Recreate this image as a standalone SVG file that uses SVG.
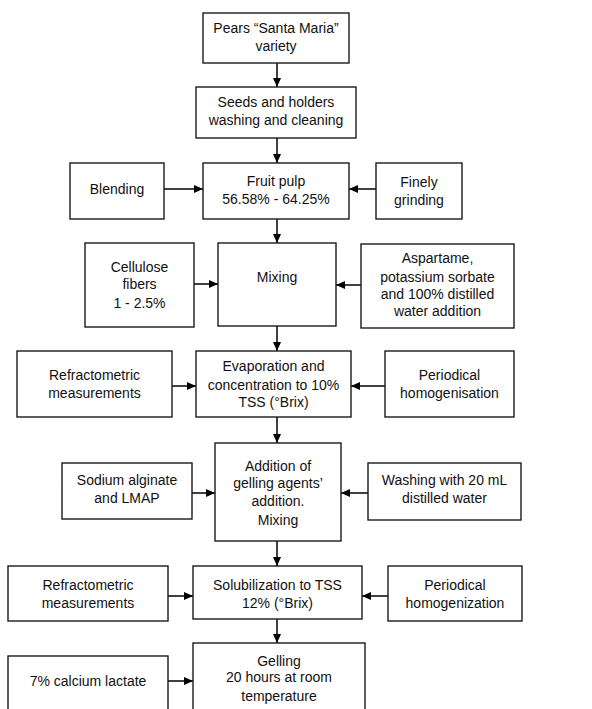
<svg xmlns="http://www.w3.org/2000/svg" width="592" height="709" viewBox="0 0 592 709">
<defs>
<marker id="ah" markerUnits="userSpaceOnUse" markerWidth="9" markerHeight="9" viewBox="0 0 9 9" refX="9" refY="4.5" orient="auto">
<path d="M0,0.5 L9,4.5 L0,8.5 Z" fill="#000"/>
</marker>
<style>
rect{fill:#fff;stroke:#1a1a1a;stroke-width:1.4}
text{font-family:"Liberation Sans",Arial,sans-serif;font-size:14px;fill:#111;text-anchor:middle}
#connectors line{stroke:#000;stroke-width:1.5;marker-end:url(#ah)}
</style>
</defs>
<rect x="0" y="0" width="592" height="709" style="fill:#fff;stroke:none"/>
<g id="connectors">
<line x1="277" y1="63" x2="277" y2="87"/>
<line x1="277" y1="138" x2="277" y2="163"/>
<line x1="277" y1="219" x2="277" y2="243"/>
<line x1="277" y1="326" x2="277" y2="351"/>
<line x1="277" y1="417" x2="277" y2="443"/>
<line x1="277" y1="541" x2="277" y2="566"/>
<line x1="277" y1="619" x2="277" y2="643"/>
<line x1="164" y1="189" x2="203" y2="189"/>
<line x1="376" y1="189" x2="349" y2="189"/>
<line x1="194" y1="284" x2="218" y2="284"/>
<line x1="361" y1="285" x2="336" y2="285"/>
<line x1="172" y1="386" x2="196" y2="386"/>
<line x1="385" y1="386" x2="351" y2="386"/>
<line x1="192" y1="493" x2="215" y2="493"/>
<line x1="368" y1="493" x2="341" y2="493"/>
<line x1="168" y1="596" x2="193" y2="596"/>
<line x1="388" y1="596" x2="362" y2="596"/>
<line x1="168" y1="681" x2="193" y2="681"/>
</g>
<g id="pears"><rect x="203" y="13" width="146" height="50"/><text x="276" y="33">Pears “Santa Maria”</text><text x="276" y="51">variety</text></g>
<g id="seeds"><rect x="196" y="87" width="160" height="51"/><text x="276" y="107">Seeds and holders</text><text x="276" y="125">washing and cleaning</text></g>
<g id="pulp"><rect x="203" y="163" width="146" height="56"/><text x="276" y="186">Fruit pulp</text><text x="276" y="204">56.58% - 64.25%</text></g>
<g id="blending"><rect x="70" y="163" width="94" height="56"/><text x="117" y="194">Blending</text></g>
<g id="grinding"><rect x="376" y="163" width="86" height="56"/><text x="419" y="187">Finely</text><text x="419" y="205">grinding</text></g>
<g id="mixing"><rect x="218" y="243" width="118" height="83"/><text x="277" y="282">Mixing</text></g>
<g id="cellulose"><rect x="85" y="243" width="109" height="84"/><text x="139.5" y="272">Cellulose</text><text x="139.5" y="289">fibers</text><text x="139.5" y="308">1 - 2.5%</text></g>
<g id="aspartame"><rect x="361" y="244" width="153" height="84"/><text x="437.5" y="263">Aspartame,</text><text x="437.5" y="282">potassium sorbate</text><text x="437.5" y="299">and 100% distilled</text><text x="437.5" y="316">water addition</text></g>
<g id="evaporation"><rect x="196" y="351" width="155" height="66"/><text x="273.5" y="371">Evaporation and</text><text x="273.5" y="390">concentration to 10%</text><text x="273.5" y="407">TSS (°Brix)</text></g>
<g id="refract1"><rect x="17" y="351" width="155" height="66"/><text x="94.5" y="380">Refractometric</text><text x="94.5" y="398">measurements</text></g>
<g id="period1"><rect x="385" y="351" width="129" height="66"/><text x="449.5" y="380">Periodical</text><text x="449.5" y="398">homogenisation</text></g>
<g id="addition"><rect x="215" y="443" width="126" height="98"/><text x="278" y="471">Addition of</text><text x="278" y="488">gelling agents’</text><text x="278" y="506">addition.</text><text x="278" y="525">Mixing</text></g>
<g id="sodium"><rect x="62" y="463" width="130" height="56"/><text x="127" y="485">Sodium alginate</text><text x="127" y="503">and LMAP</text></g>
<g id="washing"><rect x="368" y="463" width="153" height="57"/><text x="444.5" y="485">Washing with 20 mL</text><text x="444.5" y="503">distilled water</text></g>
<g id="solubilization"><rect x="193" y="566" width="169" height="53"/><text x="277.5" y="590">Solubilization to TSS</text><text x="277.5" y="608">12% (°Brix)</text></g>
<g id="refract2"><rect x="8" y="566" width="160" height="55"/><text x="88" y="590">Refractometric</text><text x="88" y="608">measurements</text></g>
<g id="period2"><rect x="388" y="566" width="134" height="55"/><text x="455" y="590">Periodical</text><text x="455" y="608">homogenization</text></g>
<g id="gelling"><rect x="193" y="643" width="172" height="72"/><text x="279" y="666">Gelling</text><text x="279" y="682">20 hours at room</text><text x="279" y="701">temperature</text></g>
<g id="calcium"><rect x="8" y="656" width="160" height="60"/><text x="88" y="686">7% calcium lactate</text></g>
</svg>
